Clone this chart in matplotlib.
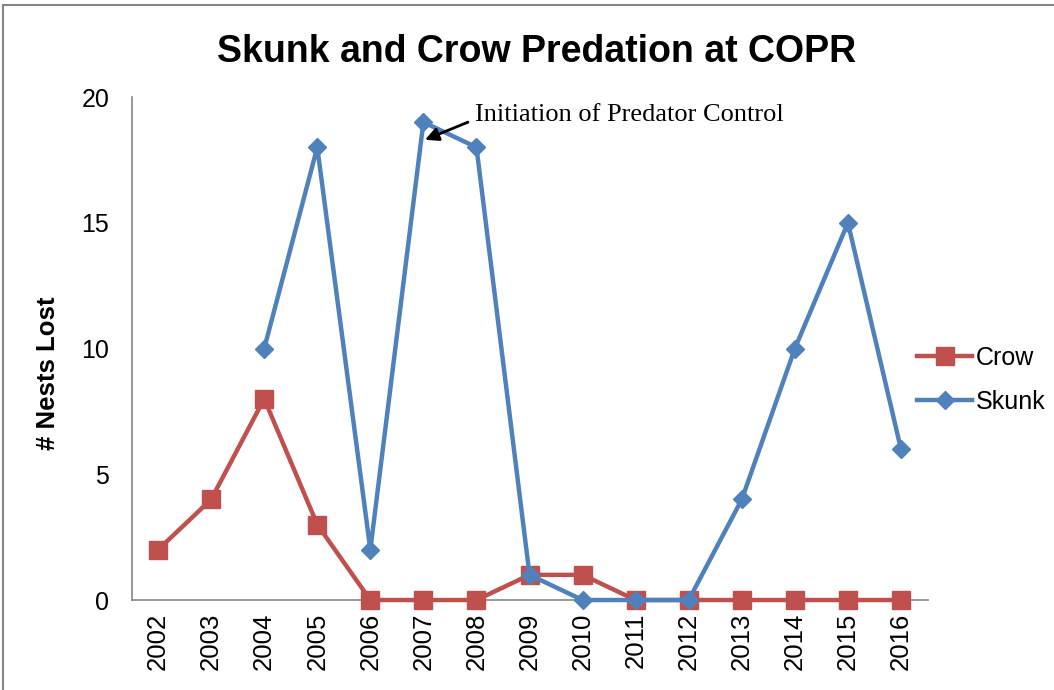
import numpy as np
import matplotlib
matplotlib.use("Agg")
import matplotlib.pyplot as plt
from matplotlib.patches import Rectangle

# ---------------- data ----------------
years = ["2002", "2003", "2004", "2005", "2006", "2007", "2008", "2009",
         "2010", "2011", "2012", "2013", "2014", "2015", "2016"]
crow = [2, 4, 8, 3, 0, 0, 0, 1, 1, 0, 0, 0, 0, 0, 0]
skunk = [np.nan, np.nan, 10, 18, 2, 19, 18, 1, 0, 0, 0, 4, 10, 15, 6]
yticks = [0, 5, 10, 15, 20]

RED = "#C0504D"
BLUE = "#4F81BD"

plt.rcParams["font.family"] = ["Liberation Sans", "DejaVu Sans"]

fig = plt.figure(figsize=(10.54, 6.9), dpi=100)
ax = fig.add_axes([0.1248, 0.1304, 0.7552, 0.729])

x = np.arange(len(years))
ax.plot(x, crow, color=RED, lw=3.2, marker="s", ms=12.5, label="Crow", zorder=3, clip_on=False)
ax.plot(x, skunk, color=BLUE, lw=3.2, marker="D", ms=9.5, label="Skunk", zorder=4, clip_on=False)

ax.set_xlim(-0.5, len(years) - 0.5)
ax.set_ylim(0, 20)
ax.set_yticks(yticks)
ax.set_xticks(x)
ax.set_xticklabels(years, rotation=90, fontsize=18.5)
ax.tick_params(axis="y", labelsize=18, length=0, pad=16)
ax.tick_params(axis="x", length=0, pad=9)

for s in ["top", "right"]:
    ax.spines[s].set_visible(False)
for s in ["left", "bottom"]:
    ax.spines[s].set_color("#868686")
    ax.spines[s].set_linewidth(1.2)
ax.spines["bottom"].set_zorder(1)

ax.set_ylabel("# Nests Lost", fontsize=18.5, fontweight="bold")
ax.yaxis.set_label_coords(-0.0905, 0.451)
fig.text(0.509, 0.925, "Skunk and Crow Predation at COPR", ha="center", va="center",
         fontsize=27, fontweight="bold")

# annotation: text and arrow placed separately
ax.text(5.97, 19.3, "Initiation of Predator Control", fontsize=19,
        family=["Liberation Serif", "DejaVu Serif"], va="center", ha="left")
ax.annotate("", xy=(5.03, 18.3), xytext=(5.84, 19.0),
            arrowprops=dict(arrowstyle="-|>", color="black", lw=2, mutation_scale=20,
                            shrinkA=0, shrinkB=0), zorder=5)

# position the legend at the right of the plot
ax.legend(loc="center left", bbox_to_anchor=(0.849, 0.449), bbox_transform=fig.transFigure,
          frameon=False, fontsize=18, handlelength=2.2, labelspacing=0.8, handletextpad=0.15)

# chart border
fig.patches.append(Rectangle((0.003, -0.01), 1.02, 1.003, transform=fig.transFigure,
                             fill=False, edgecolor="#868686", lw=1.5))

fig.savefig("out.png", dpi=100)
